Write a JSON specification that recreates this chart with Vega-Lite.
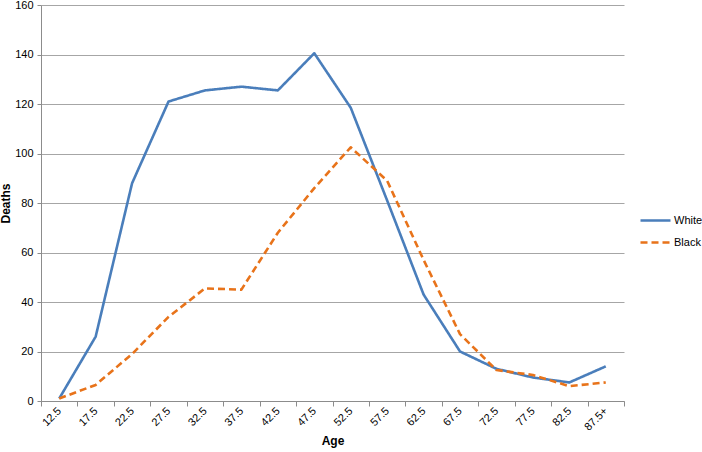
{
  "$schema": "https://vega.github.io/schema/vega-lite/v6.json",
  "width": 583,
  "height": 396,
  "autosize": "none",
  "padding": {"left": 41, "top": 5, "right": 78, "bottom": 51},
  "background": "white",
  "config": {
    "font": "Liberation Sans",
    "view": {"stroke": null}
  },
  "data": {
    "values": [
      {"age": "12.5", "race": "White", "deaths": 1},
      {"age": "17.5", "race": "White", "deaths": 26},
      {"age": "22.5", "race": "White", "deaths": 88},
      {"age": "27.5", "race": "White", "deaths": 121},
      {"age": "32.5", "race": "White", "deaths": 125.5},
      {"age": "37.5", "race": "White", "deaths": 127},
      {"age": "42.5", "race": "White", "deaths": 125.5},
      {"age": "47.5", "race": "White", "deaths": 140.5},
      {"age": "52.5", "race": "White", "deaths": 118.5},
      {"age": "57.5", "race": "White", "deaths": 81},
      {"age": "62.5", "race": "White", "deaths": 43},
      {"age": "67.5", "race": "White", "deaths": 20},
      {"age": "72.5", "race": "White", "deaths": 13},
      {"age": "77.5", "race": "White", "deaths": 9.5},
      {"age": "82.5", "race": "White", "deaths": 7.5},
      {"age": "87.5+", "race": "White", "deaths": 14},
      {"age": "12.5", "race": "Black", "deaths": 1},
      {"age": "17.5", "race": "Black", "deaths": 6.5},
      {"age": "22.5", "race": "Black", "deaths": 19},
      {"age": "27.5", "race": "Black", "deaths": 34},
      {"age": "32.5", "race": "Black", "deaths": 45.5},
      {"age": "37.5", "race": "Black", "deaths": 45},
      {"age": "42.5", "race": "Black", "deaths": 68},
      {"age": "47.5", "race": "Black", "deaths": 86},
      {"age": "52.5", "race": "Black", "deaths": 102.5},
      {"age": "57.5", "race": "Black", "deaths": 89},
      {"age": "62.5", "race": "Black", "deaths": 57},
      {"age": "67.5", "race": "Black", "deaths": 27},
      {"age": "72.5", "race": "Black", "deaths": 12.5},
      {"age": "77.5", "race": "Black", "deaths": 10.5},
      {"age": "82.5", "race": "Black", "deaths": 6},
      {"age": "87.5+", "race": "Black", "deaths": 7.5}
    ]
  },
  "mark": {"type": "line", "strokeWidth": 2.6, "strokeJoin": "round"},
  "encoding": {
    "x": {
      "field": "age",
      "type": "ordinal",
      "sort": null,
      "bandPosition": 0.5,
      "scale": {"type": "band", "paddingInner": 0, "paddingOuter": 0},
      "axis": {
        "title": "Age",
        "titleFont": "Liberation Sans",
        "titleFontSize": 12,
        "titleFontWeight": "bold",
        "titleColor": "#000000",
        "titlePadding": 3,
        "labelAngle": -45,
        "labelAlign": "right",
        "labelBaseline": "middle",
        "labelFontSize": 11,
        "labelColor": "#000000",
        "labelPadding": 3,
        "tickBand": "extent",
        "tickSize": 5,
        "tickColor": "#8c8c8c",
        "domainColor": "#8c8c8c",
        "grid": false
      }
    },
    "y": {
      "field": "deaths",
      "type": "quantitative",
      "scale": {"domain": [0, 160], "nice": false},
      "axis": {
        "title": "Deaths",
        "titleFont": "Liberation Sans",
        "titleFontSize": 12,
        "titleFontWeight": "bold",
        "titleColor": "#000000",
        "titlePadding": 2,
        "values": [0, 20, 40, 60, 80, 100, 120, 140, 160],
        "labelFontSize": 11,
        "labelColor": "#000000",
        "labelPadding": 4,
        "tickSize": 4,
        "tickColor": "#8c8c8c",
        "domainColor": "#8c8c8c",
        "grid": true,
        "gridColor": "#a6a6a6",
        "gridWidth": 1
      }
    },
    "color": {
      "field": "race",
      "type": "nominal",
      "sort": ["White", "Black"],
      "scale": {"domain": ["White", "Black"], "range": ["#4A7EBB", "#E8731A"]},
      "legend": {
        "title": null,
        "orient": "none",
        "legendX": 598,
        "legendY": 199,
        "symbolType": "stroke",
        "symbolSize": 900,
        "symbolStrokeWidth": 2.6,
        "labelFontSize": 11,
        "labelColor": "#000000",
        "rowPadding": -10,
        "labelOffset": 2
      }
    },
    "strokeDash": {
      "field": "race",
      "type": "nominal",
      "sort": ["White", "Black"],
      "scale": {"domain": ["White", "Black"], "range": [[1, 0], [7, 4]]},
      "legend": {
        "title": null,
        "orient": "none",
        "legendX": 598,
        "legendY": 199,
        "symbolType": "stroke",
        "symbolSize": 900,
        "symbolStrokeWidth": 2.6,
        "labelFontSize": 11,
        "labelColor": "#000000",
        "rowPadding": -10,
        "labelOffset": 2
      }
    }
  }
}
